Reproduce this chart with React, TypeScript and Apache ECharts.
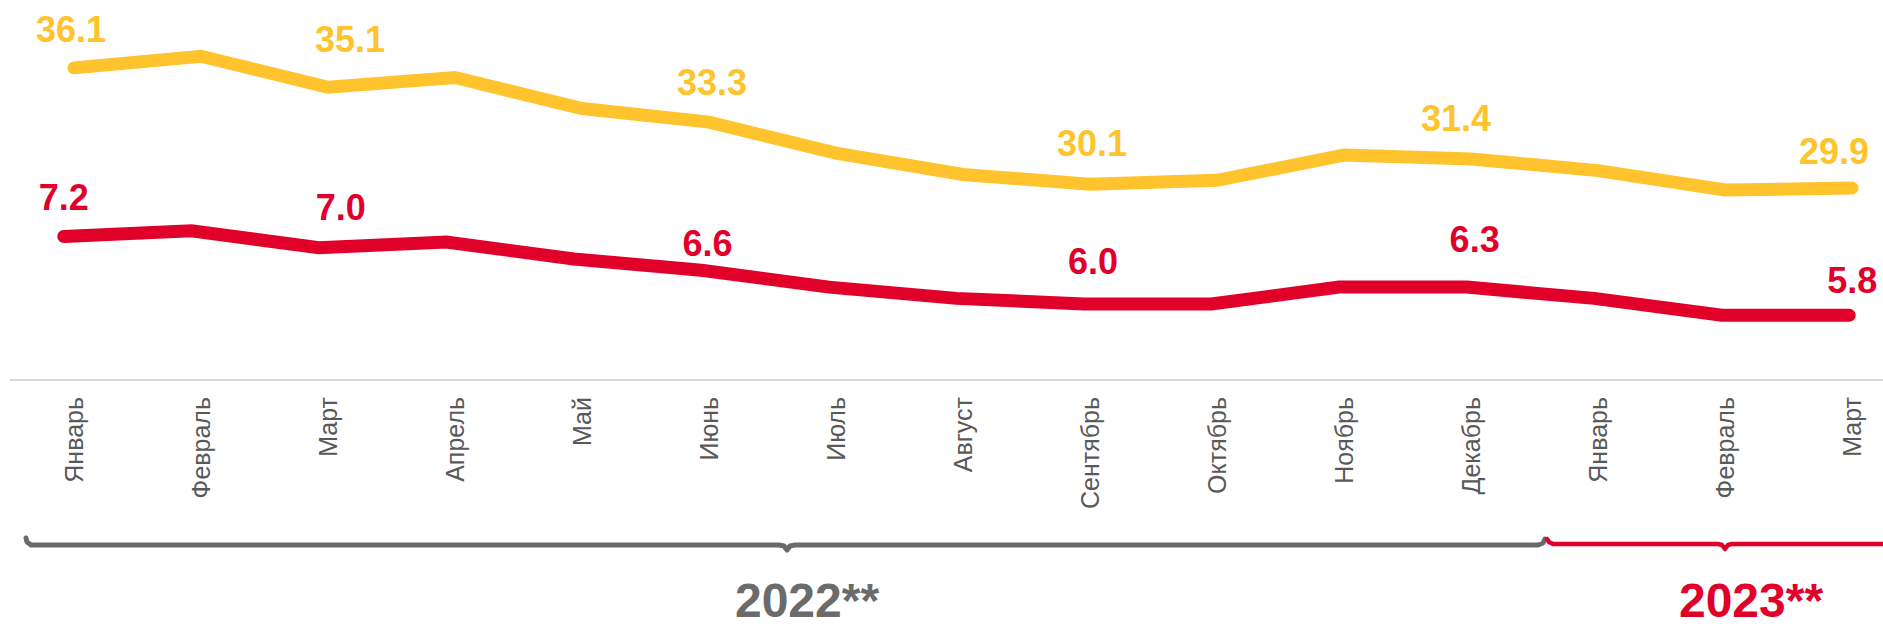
import React, { useEffect, useRef } from "react";
import * as echarts from "echarts";

const categories = [
  "Январь", "Февраль", "Март", "Апрель", "Май", "Июнь", "Июль", "Август",
  "Сентябрь", "Октябрь", "Ноябрь", "Декабрь", "Январь", "Февраль", "Март",
];
const yellowValues = [36.1, 36.7, 35.1, 35.6, 34.0, 33.3, 31.7, 30.6, 30.1, 30.3, 31.6, 31.4, 30.8, 29.8, 29.9];
const redValues = [7.2, 7.3, 7.0, 7.1, 6.8, 6.6, 6.3, 6.1, 6.0, 6.0, 6.3, 6.3, 6.1, 5.8, 5.8];
const labeledIndexes = [0, 2, 5, 8, 11, 14];
const yearLabels = ["2022**", "2023**"];

// label placement tweaks (style only): [distance, dx]
const yellowLabelTweaks: Record<number, [number, number]> = {
  0: [20, -3], 2: [29, 22], 5: [21, 3], 8: [22, 2], 11: [22, -15], 14: [18, -18],
};
const redLabelTweaks: Record<number, [number, number]> = {
  0: [20, 0], 2: [22, 22], 5: [8, 6], 8: [24, 9], 11: [29, 8], 14: [16, 3],
};

const YELLOW = "#FFC32E";
const RED = "#E1002A";
const GRAY = "#6B6B6B";
const FONT = "'Liberation Sans', Arial, sans-serif";

function buildData(values: number[], tweaks: Record<number, [number, number]>, color: string) {
  return values.map((v, i) => {
    if (labeledIndexes.indexOf(i) >= 0) {
      const [dist, dx] = tweaks[i];
      return {
        value: v,
        label: {
          show: true,
          position: "top",
          distance: dist,
          offset: [dx, 0],
          color,
          fontSize: 36,
          lineHeight: 36,
          fontWeight: "bold",
          fontFamily: FONT,
          formatter: (p: any) => Number(p.value).toFixed(1),
        },
      };
    }
    return { value: v, label: { show: false } };
  });
}

export default function App() {
  const ref = useRef<HTMLDivElement>(null);
  useEffect(() => {
    if (!ref.current) return;
    const chart = echarts.init(ref.current, undefined, { renderer: "svg" });
    const option: any = {
      animation: false,
      backgroundColor: "#ffffff",
      grid: [
        { left: 10.5, top: 0, width: 1905, height: 380 },
        { left: 0, top: 0, width: 1913, height: 380 },
      ],
      xAxis: [
        {
          type: "category",
          gridIndex: 0,
          data: categories,
          boundaryGap: true,
          axisLine: { show: true, lineStyle: { color: "#D9D9D9", width: 2 } },
          axisTick: { show: false },
          axisLabel: {
            interval: 0,
            rotate: 90,
            margin: 17,
            color: "#595959",
            fontSize: 25,
            fontFamily: FONT,
          },
          splitLine: { show: false },
        },
        {
          type: "category",
          gridIndex: 1,
          data: categories,
          boundaryGap: true,
          show: false,
        },
      ],
      yAxis: [
        { type: "value", gridIndex: 0, min: 20, max: 39.6, show: false, splitLine: { show: false } },
        { type: "value", gridIndex: 1, min: 4.65, max: 11.4, show: false, splitLine: { show: false } },
      ],
      series: [
        {
          type: "line",
          xAxisIndex: 1,
          yAxisIndex: 1,
          data: buildData(redValues, redLabelTweaks, RED),
          symbol: "circle",
          symbolSize: 1,
          showSymbol: true,
          itemStyle: { color: RED },
          lineStyle: { color: RED, width: 13, cap: "round", join: "miter" },
          clip: false,
          z: 3,
        },
        {
          type: "line",
          xAxisIndex: 0,
          yAxisIndex: 0,
          data: buildData(yellowValues, yellowLabelTweaks, YELLOW),
          symbol: "circle",
          symbolSize: 1,
          showSymbol: true,
          itemStyle: { color: YELLOW },
          lineStyle: { color: YELLOW, width: 13, cap: "round", join: "miter" },
          clip: false,
          z: 3,
        },
      ],
      graphic: [
        {
          type: "polyline",
          shape: {
            points: [
              [26, 538], [27, 542], [31, 545], [779, 545], [784, 546], [787, 550],
              [790, 546], [795, 545], [1538, 545], [1543, 543], [1545, 539],
            ],
          },
          style: { stroke: GRAY, lineWidth: 5, fill: null, lineCap: "round", lineJoin: "round" },
        },
        {
          type: "polyline",
          shape: {
            points: [
              [1547, 539], [1549, 542], [1553, 544], [1718, 544], [1722, 545], [1725, 549],
              [1728, 545], [1732, 544], [1900, 544],
            ],
          },
          style: { stroke: RED, lineWidth: 4.5, fill: null, lineCap: "round", lineJoin: "round" },
        },
        {
          type: "text",
          x: 807,
          y: 600,
          style: {
            text: yearLabels[0],
            fill: GRAY,
            font: `bold 48px ${FONT}`,
            align: "center",
            verticalAlign: "middle",
          },
        },
        {
          type: "text",
          x: 1751,
          y: 600,
          style: {
            text: yearLabels[1],
            fill: RED,
            font: `bold 48px ${FONT}`,
            align: "center",
            verticalAlign: "middle",
          },
        },
      ],
    };
    chart.setOption(option);
    return () => chart.dispose();
  }, []);
  return (
    <div
      style={{
        position: "absolute",
        left: 0,
        top: 0,
        width: 1883,
        height: 632,
        overflow: "hidden",
        background: "#fff",
      }}
    >
      <div ref={ref} style={{ width: 1940, height: 632 }} />
    </div>
  );
}
